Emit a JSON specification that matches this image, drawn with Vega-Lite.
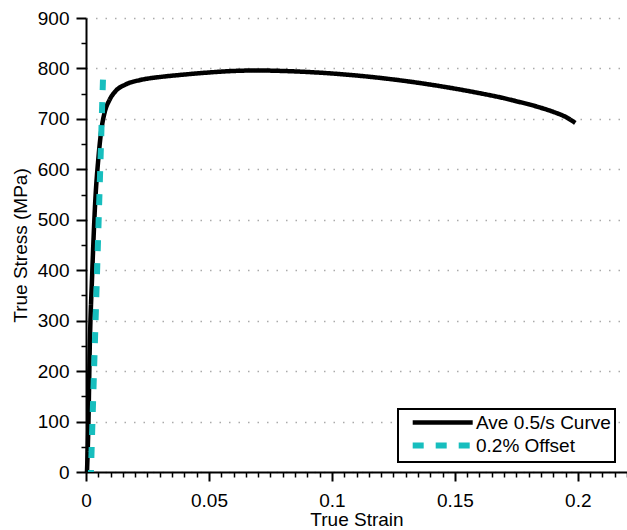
{
  "$schema": "https://vega.github.io/schema/vega-lite/v6.json",
  "width": 541,
  "height": 454,
  "autosize": {"type": "none"},
  "padding": {"left": 86, "top": 18, "right": 0, "bottom": 58},
  "background": "white",
  "config": {
    "view": {"stroke": null},
    "font": "Liberation Sans",
    "axis": {"labelFont": "Liberation Sans", "titleFont": "Liberation Sans", "labelColor": "black", "titleColor": "black", "titleFontWeight": "normal"},
    "legend": {"labelFont": "Liberation Sans"}
  },
  "data": {
    "values": [
      {"series": "Ave 0.5/s Curve", "strain": 0.0004, "stress": 0},
      {"series": "Ave 0.5/s Curve", "strain": 0.0010, "stress": 100},
      {"series": "Ave 0.5/s Curve", "strain": 0.0015, "stress": 240},
      {"series": "Ave 0.5/s Curve", "strain": 0.0025, "stress": 390},
      {"series": "Ave 0.5/s Curve", "strain": 0.0038, "stress": 540},
      {"series": "Ave 0.5/s Curve", "strain": 0.0050, "stress": 620},
      {"series": "Ave 0.5/s Curve", "strain": 0.0063, "stress": 680},
      {"series": "Ave 0.5/s Curve", "strain": 0.0077, "stress": 715},
      {"series": "Ave 0.5/s Curve", "strain": 0.0095, "stress": 737},
      {"series": "Ave 0.5/s Curve", "strain": 0.0120, "stress": 755},
      {"series": "Ave 0.5/s Curve", "strain": 0.0160, "stress": 768},
      {"series": "Ave 0.5/s Curve", "strain": 0.0220, "stress": 777},
      {"series": "Ave 0.5/s Curve", "strain": 0.0300, "stress": 783},
      {"series": "Ave 0.5/s Curve", "strain": 0.0380, "stress": 787},
      {"series": "Ave 0.5/s Curve", "strain": 0.0500, "stress": 792},
      {"series": "Ave 0.5/s Curve", "strain": 0.0600, "stress": 795},
      {"series": "Ave 0.5/s Curve", "strain": 0.0700, "stress": 796},
      {"series": "Ave 0.5/s Curve", "strain": 0.0800, "stress": 795},
      {"series": "Ave 0.5/s Curve", "strain": 0.0900, "stress": 793},
      {"series": "Ave 0.5/s Curve", "strain": 0.1000, "stress": 790},
      {"series": "Ave 0.5/s Curve", "strain": 0.1100, "stress": 786},
      {"series": "Ave 0.5/s Curve", "strain": 0.1200, "stress": 781},
      {"series": "Ave 0.5/s Curve", "strain": 0.1300, "stress": 775},
      {"series": "Ave 0.5/s Curve", "strain": 0.1400, "stress": 768},
      {"series": "Ave 0.5/s Curve", "strain": 0.1500, "stress": 760},
      {"series": "Ave 0.5/s Curve", "strain": 0.1600, "stress": 751},
      {"series": "Ave 0.5/s Curve", "strain": 0.1700, "stress": 741},
      {"series": "Ave 0.5/s Curve", "strain": 0.1750, "stress": 735},
      {"series": "Ave 0.5/s Curve", "strain": 0.1800, "stress": 729},
      {"series": "Ave 0.5/s Curve", "strain": 0.1850, "stress": 722},
      {"series": "Ave 0.5/s Curve", "strain": 0.1900, "stress": 714},
      {"series": "Ave 0.5/s Curve", "strain": 0.1950, "stress": 704},
      {"series": "Ave 0.5/s Curve", "strain": 0.1990, "stress": 692},
      {"series": "0.2% Offset", "strain": 0.0020, "stress": 0},
      {"series": "0.2% Offset", "strain": 0.0069, "stress": 778}
    ]
  },
  "layer": [
    {
      "mark": {"type": "line", "strokeCap": "butt", "strokeJoin": "round", "interpolate": "monotone", "strokeDashOffset": 9},
      "encoding": {
        "x": {
          "field": "strain", "type": "quantitative",
          "scale": {"domain": [0, 0.22], "nice": false, "zero": true},
          "axis": {
            "orient": "bottom", "title": "True Strain", "values": [0, 0.05, 0.1, 0.15, 0.2], "format": "~g",
            "grid": false, "domainColor": "black", "domainWidth": 2, "tickColor": "black", "tickWidth": 2, "tickSize": 9,
            "labelFontSize": 19, "labelPadding": 10, "titleFontSize": 19, "titlePadding": 0, "labelFlush": false
          }
        },
        "y": {
          "field": "stress", "type": "quantitative",
          "scale": {"domain": [0, 900], "nice": false},
          "axis": {
            "orient": "left", "title": "True Stress (MPa)", "values": [0, 100, 200, 300, 400, 500, 600, 700, 800, 900],
            "grid": true, "gridColor": "#aaaaaa", "gridDash": [1.5, 8], "gridWidth": 1.5,
            "domainColor": "black", "domainWidth": 2, "tickColor": "black", "tickWidth": 2, "tickSize": 10,
            "labelFontSize": 19, "labelPadding": 7, "titleFontSize": 19, "titlePadding": 7
          }
        },
        "color": {
          "field": "series", "type": "nominal",
          "scale": {"domain": ["Ave 0.5/s Curve", "0.2% Offset"], "range": ["black", "#17BEBE"]},
          "legend": {
            "orient": "none", "legendX": 312, "legendY": 391, "title": null,
            "strokeColor": "black", "fillColor": "white", "padding": 4,
            "labelFontSize": 19, "labelColor": "black", "labelLimit": 300, "labelOffset": 55,
            "symbolType": "M0.2,0H10.2", "symbolSize": 144, "symbolStrokeWidth": 4.5, "rowPadding": 0,
            "encode": {"legend": {"update": {"strokeWidth": {"value": 2}}}}
          }
        },
        "strokeDash": {
          "field": "series", "type": "nominal",
          "scale": {"domain": ["Ave 0.5/s Curve", "0.2% Offset"], "range": [[1, 0], [11, 12]]},
          "legend": {
            "orient": "none", "legendX": 312, "legendY": 391, "title": null,
            "strokeColor": "black", "fillColor": "white", "padding": 4,
            "labelFontSize": 19, "labelColor": "black", "labelLimit": 300, "labelOffset": 55,
            "symbolType": "M0.2,0H10.2", "symbolSize": 144, "symbolStrokeWidth": 4.5, "rowPadding": 0,
            "encode": {"legend": {"update": {"strokeWidth": {"value": 2}}}}
          }
        },
        "strokeWidth": {
          "field": "series", "type": "nominal",
          "scale": {"domain": ["Ave 0.5/s Curve", "0.2% Offset"], "range": [4.5, 6]},
          "legend": null
        }
      }
    },
    {
      "mark": {"type": "point", "opacity": 0},
      "encoding": {
        "x": {
          "field": "strain", "type": "quantitative",
          "scale": {"domain": [0, 0.22], "nice": false},
          "axis": {
            "orient": "bottom", "title": null, "labels": false, "grid": false, "domain": false,
            "values": [0.005, 0.01, 0.015, 0.02, 0.025, 0.03, 0.035, 0.04, 0.045, 0.055, 0.06, 0.065, 0.07, 0.075, 0.08, 0.085, 0.09, 0.095, 0.105, 0.11, 0.115, 0.12, 0.125, 0.13, 0.135, 0.14, 0.145, 0.155, 0.16, 0.165, 0.17, 0.175, 0.18, 0.185, 0.19, 0.195, 0.205, 0.21, 0.215, 0.22],
            "tickColor": "black", "tickWidth": 1.5, "tickSize": 5
          }
        },
        "y": {
          "field": "stress", "type": "quantitative",
          "scale": {"domain": [0, 900], "nice": false},
          "axis": {
            "orient": "left", "title": null, "labels": false, "grid": false, "domain": false,
            "values": [50, 150, 250, 350, 450, 550, 650, 750, 850],
            "tickColor": "black", "tickWidth": 1.5, "tickSize": 5
          }
        }
      }
    }
  ],
  "resolve": {"axis": {"x": "independent", "y": "independent"}}
}
